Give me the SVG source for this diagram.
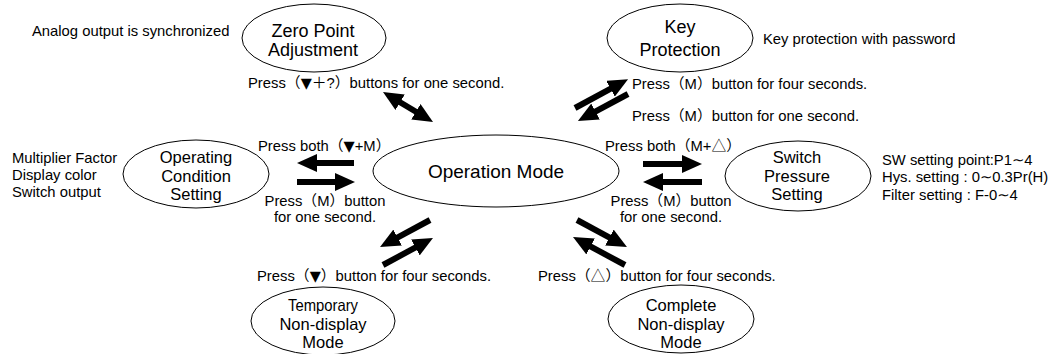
<svg xmlns="http://www.w3.org/2000/svg" width="1058" height="354" viewBox="0 0 1058 354">
<style>
.nd{fill:#fff;stroke:#000;stroke-width:1}
.lb{font-family:"Liberation Sans","Noto Sans CJK SC",sans-serif;font-size:18px;fill:#000;text-anchor:middle}
.l3{font-size:16.5px}
.an{font-family:"Liberation Sans","Noto Sans CJK SC",sans-serif;font-size:14.8px;fill:#000}
.wv{font-family:"DejaVu Sans",sans-serif}
.tri{font-family:"DejaVu Sans",sans-serif;font-size:14.5px}
.ar{stroke:#000;stroke-width:6;fill:none;marker-end:url(#ah)}
.dbl{marker-start:url(#ah)}
</style>
<defs>
<marker id="ah" markerUnits="userSpaceOnUse" markerWidth="20" markerHeight="18" refX="4" refY="9" orient="auto-start-reverse" viewBox="0 0 20 18"><path d="M0,0 L20,9 L0,18 z" fill="#000"/></marker>
</defs>
<rect width="1058" height="354" fill="#fff"/>

<g id="connectors">
<line class="ar dbl" x1="396.7" y1="100.2" x2="419.3" y2="113.8"/>
<line class="ar" x1="575" y1="108" x2="614" y2="86.8"/>
<line class="ar" x1="628" y1="94" x2="592" y2="113.4"/>
<line class="ar" x1="354" y1="163" x2="313" y2="163"/>
<line class="ar" x1="297" y1="182" x2="339" y2="182"/>
<line class="ar" x1="643" y1="164" x2="686" y2="164"/>
<line class="ar" x1="702" y1="182" x2="659" y2="182"/>
<line class="ar" x1="430" y1="220" x2="394.1" y2="239.4"/>
<line class="ar" x1="383" y1="265" x2="418.9" y2="245.6"/>
<line class="ar" x1="577" y1="220" x2="612.9" y2="239.4"/>
<line class="ar" x1="625" y1="265" x2="587.1" y2="244.6"/>
<text class="an" x="248" y="88">Press（<tspan class="tri">▼</tspan>＋?）buttons for one second.</text>
<text class="an" x="632" y="89">Press（M）button for four seconds.</text>
<text class="an" x="632" y="121">Press（M）button for one second.</text>
<text class="an" x="258" y="151">Press both（<tspan class="tri">▼</tspan>+M）</text>
<text class="an" x="605" y="151">Press both（M+△）</text>
<text class="an" x="325" y="206" text-anchor="middle">Press（M）button</text>
<text class="an" x="325" y="222" text-anchor="middle">for one second.</text>
<text class="an" x="671" y="206" text-anchor="middle">Press（M）button</text>
<text class="an" x="671" y="222" text-anchor="middle">for one second.</text>
<text class="an" x="257" y="281">Press（<tspan class="tri">▼</tspan>）button for four seconds.</text>
<text class="an" x="538" y="281">Press（△）button for four seconds.</text>
</g>

<g id="zero">
<ellipse class="nd" cx="314" cy="38" rx="72" ry="34"/>
<text class="lb" x="313" y="37">Zero Point</text>
<text class="lb" x="313" y="56">Adjustment</text>
<text class="an" x="32" y="36">Analog output is synchronized</text>
</g>

<g id="keyprot">
<ellipse class="nd" cx="680" cy="38" rx="73" ry="34"/>
<text class="lb" x="680" y="33">Key</text>
<text class="lb" x="680" y="56">Protection</text>
<text class="an" x="763" y="44">Key protection with password</text>
</g>

<g id="opmode">
<ellipse class="nd" cx="496" cy="171" rx="123" ry="36"/>
<text class="lb" x="496" y="178" style="font-size:19px">Operation Mode</text>
</g>

<g id="opcond">
<ellipse class="nd" cx="196" cy="174" rx="73" ry="34"/>
<text class="lb l3" x="196" y="163">Operating</text>
<text class="lb l3" x="196" y="181.5">Condition</text>
<text class="lb l3" x="196" y="200">Setting</text>
<text class="an" x="12" y="163">Multiplier Factor</text>
<text class="an" x="12" y="180">Display color</text>
<text class="an" x="12" y="197">Switch output</text>
</g>

<g id="swpress">
<ellipse class="nd" cx="798" cy="176" rx="73" ry="35"/>
<text class="lb l3" x="797" y="163">Switch</text>
<text class="lb l3" x="797" y="181.5">Pressure</text>
<text class="lb l3" x="797" y="200">Setting</text>
<text class="an" x="882" y="164.5">SW setting point:P1<tspan class="wv">∼</tspan>4</text>
<text class="an" x="882" y="182">Hys. setting : 0<tspan class="wv">∼</tspan>0.3Pr(H)</text>
<text class="an" x="882" y="199.5">Filter setting : F-0<tspan class="wv">∼</tspan>4</text>
</g>

<g id="tempnd">
<ellipse class="nd" cx="323" cy="321" rx="72" ry="34"/>
<text class="lb l3" x="323" y="311" textLength="70" lengthAdjust="spacingAndGlyphs">Temporary</text>
<text class="lb l3" x="323" y="329.5">Non-display</text>
<text class="lb l3" x="323" y="348">Mode</text>
</g>

<g id="compnd">
<ellipse class="nd" cx="681" cy="319" rx="73" ry="34"/>
<text class="lb l3" x="681" y="311">Complete</text>
<text class="lb l3" x="681" y="329.5">Non-display</text>
<text class="lb l3" x="681" y="348">Mode</text>
</g>
</svg>
